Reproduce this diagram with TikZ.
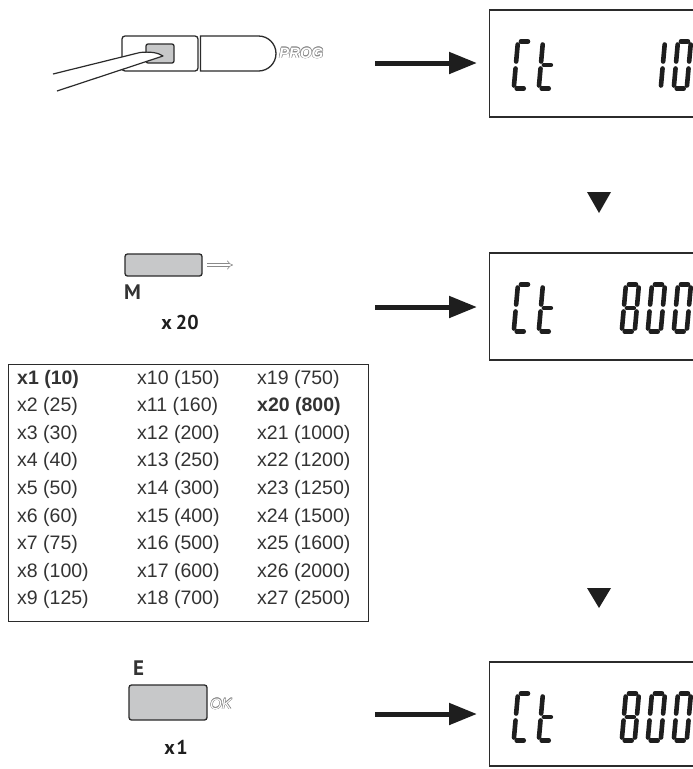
\documentclass[tikz,border=0pt]{standalone}
\usepackage{fontspec}
\setmainfont{Liberation Sans}
\newfontfamily\lblfont{PT Sans}
\usetikzlibrary{arrows.meta}
\definecolor{ink}{HTML}{2B2B2B}
\definecolor{txt}{HTML}{333333}
\definecolor{btn}{HTML}{C7C8C9}
\definecolor{olg}{HTML}{8A8A8A}
\definecolor{segc}{HTML}{1E1E1E}
\newcommand\olt[2][0.5pt]{%
  \leavevmode
  \rlap{\textcolor{olg}{\kern#1 #2}}%
  \rlap{\textcolor{olg}{\kern-#1 #2}}%
  \rlap{\textcolor{olg}{\raisebox{#1}{#2}}}%
  \rlap{\textcolor{olg}{\raisebox{-#1}{#2}}}%
  \rlap{\textcolor{olg}{\kern0.35pt\raisebox{0.35pt}{#2}}}%
  \rlap{\textcolor{olg}{\kern-0.35pt\raisebox{-0.35pt}{#2}}}%
  \rlap{\textcolor{olg}{\kern0.35pt\raisebox{-0.35pt}{#2}}}%
  \rlap{\textcolor{olg}{\kern-0.35pt\raisebox{0.35pt}{#2}}}%
  \textcolor{white}{#2}}
% seven-segment parts
\newcommand\sga{\draw[seg] (5.5,-49.5) -- (12.5,-49.5);}
\newcommand\sgb{\draw[seg] (15.5,-46.5) -- (15.5,-29.5);}
\newcommand\sgc{\draw[seg] (15.5,-22.5) -- (15.5,-5.5);}
\newcommand\sgd{\draw[seg] (5.5,-2.5) -- (12.5,-2.5);}
\newcommand\sge{\draw[seg] (2.5,-22.5) -- (2.5,-5.5);}
\newcommand\sgf{\draw[seg] (2.5,-46.5) -- (2.5,-29.5);}
\newcommand\sgg{\draw[seg] (5.5,-26) -- (12.5,-26);}
\newcommand\lcdigit[3]{\begin{scope}[shift={(#1,#2)}, xslant=0.09]#3\end{scope}}
\newcommand\lcdC{\sga\sgd\sge\sgf}
\newcommand\lcdt{\sgd\sge\sgf\sgg}
\newcommand\lcdeight{\sga\sgb\sgc\sgd\sge\sgf\sgg}
\newcommand\lcdzero{\sga\sgb\sgc\sgd\sge\sgf}
\newcommand\lcdone{\sgb\sgc}
\begin{document}
\begin{tikzpicture}[x=1pt,y=-1pt,
  seg/.style={line width=4.6pt, line cap=round, draw=segc},
  disp/.style={draw=ink, line width=1.3pt, minimum width=260pt, anchor=west, inner sep=0pt},
  bigarrow/.style={line width=5pt, draw=segc, -{Triangle[length=28pt,width=21pt]}, shorten >=12pt},
  btnline/.style={draw=ink, line width=1.3pt},
  keybox/.style={btnline, fill=btn, rounded corners=2.5pt},
  cell/.style={anchor=west, inner sep=0pt, text=txt, font=\fontsize{19.5}{22}\selectfont},
  lbl/.style={inner sep=0pt, text=txt, font=\lblfont\bfseries\fontsize{21}{21}\selectfont},
  cnt/.style={inner sep=0pt, text=segc, font=\lblfont\bfseries\fontsize{20}{20}\selectfont},
  tri/.style={fill=segc}]
\useasboundingbox (0,0) rectangle (693,769);
\fill[white] (0,0) rectangle (693,769);

% ---------- displays ----------
\node[disp, minimum height=107pt] (d1) at (489,63.5) {};
\node[disp, minimum height=107pt] (d2) at (489,306.5) {};
\node[disp, minimum height=104pt] (d3) at (489,714) {};

\lcdigit{511}{91}{\lcdC}
\lcdigit{536}{91}{\lcdt}
\lcdigit{645}{91}{\lcdone}
\lcdigit{671}{91}{\lcdzero}

\lcdigit{511}{334}{\lcdC}
\lcdigit{536}{334}{\lcdt}
\lcdigit{619}{334}{\lcdeight}
\lcdigit{645}{334}{\lcdzero}
\lcdigit{671}{334}{\lcdzero}

\lcdigit{511}{743}{\lcdC}
\lcdigit{536}{743}{\lcdt}
\lcdigit{619}{743}{\lcdeight}
\lcdigit{645}{743}{\lcdzero}
\lcdigit{671}{743}{\lcdzero}

% ---------- arrows ----------
\coordinate (a1) at (375,63);
\coordinate (a2) at (375,307);
\coordinate (a3) at (375,714);
\draw[bigarrow] (a1) -- (a1 -| d1.west);
\draw[bigarrow] (a2) -- (a2 -| d2.west);
\draw[bigarrow] (a3) -- (a3 -| d3.west);

% ---------- triangles ----------
\coordinate (t1) at (599,192);
\coordinate (t2) at (599,588);
\fill[tri] ([xshift=-12pt]t1) -- ([xshift=12pt]t1) -- ([yshift=-21pt]t1) -- cycle;
\fill[tri] ([xshift=-12pt]t2) -- ([xshift=12pt]t2) -- ([yshift=-20pt]t2) -- cycle;

% ---------- PROG key with screwdriver ----------
\draw[btnline, fill=white, rounded corners=3pt] (122,36) rectangle (198,71);
\draw[btnline, fill=white] (200.5,36) -- (258.5,36)
   .. controls (268.2,36) and (276,43.8) .. (276,53.5)
   .. controls (276,63.2) and (268.2,71) .. (258.5,71) -- (200.5,71) -- cycle;
\draw[keybox, rounded corners=2pt] (146,44) rectangle (174,63);
\draw[draw=ink, line width=1.2pt, fill=white, line join=round]
   (53,74) -- (140,52.5) .. controls (150,51.5) and (158,52.5) .. (163,56) -- (57,91);
\node[anchor=west, inner sep=0pt, font=\fontsize{15}{15}\selectfont\bfseries\itshape] (prog) at (279,53) {\olt{PROG}};

% ---------- M key ----------
\draw[keybox] (125,254) rectangle (202,276);
\coordinate (m1) at (207,265);
\coordinate (m2) at (233,265);
\draw[draw=olg, line width=0.6pt, double=white, double distance=2.6pt, -{Implies}] (m1) -- (m2);
\node[lbl, anchor=west] (mlab) at (124,292) {M};
\node[cnt] (x20) at (180,322) {x\kern4pt20};

% ---------- table ----------
\node[draw=ink, line width=1pt, minimum width=360pt, minimum height=257pt, inner sep=0pt, anchor=north west] (tbl) at (8,364) {};
\foreach \a/\b/\c [count=\i from 0] in {
  {\textbf{x1 (10)}}/x10 (150)/x19 (750),
  x2 (25)/x11 (160)/{\textbf{x20 (800)}},
  x3 (30)/x12 (200)/x21 (1000),
  x4 (40)/x13 (250)/x22 (1200),
  x5 (50)/x14 (300)/x23 (1250),
  x6 (60)/x15 (400)/x24 (1500),
  x7 (75)/x16 (500)/x25 (1600),
  x8 (100)/x17 (600)/x26 (2000),
  x9 (125)/x18 (700)/x27 (2500)} {
  \node[cell] (ca\i) at (17,{379+27.6*\i}) {\a};
  \node[cell] (cb\i) at (137,{379+27.6*\i}) {\b};
  \node[cell] (cc\i) at (257,{379+27.6*\i}) {\c};
}

% ---------- E key ----------
\node[lbl, anchor=west] (elab) at (133,668) {E};
\draw[keybox] (129,685) rectangle (207,720);
\node[anchor=west, inner sep=0pt, font=\fontsize{15}{15}\selectfont\itshape] (ok) at (210,704) {\olt[0.4pt]{OK}};
\node[cnt] (x1) at (176,747) {x\kern1.5pt1};
\end{tikzpicture}
\end{document}
